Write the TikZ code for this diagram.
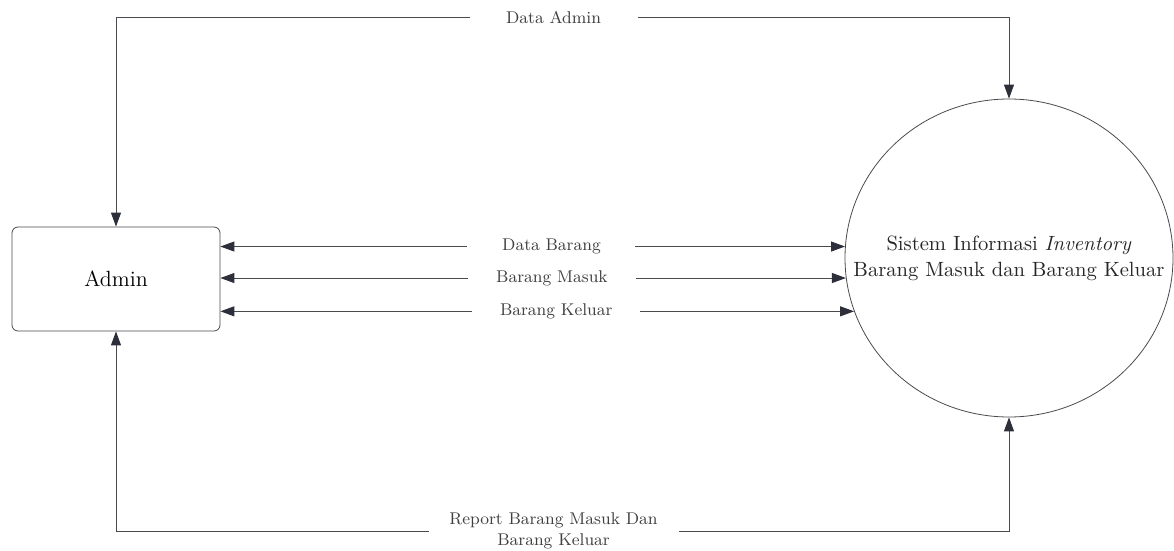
\documentclass[tikz,border=0pt]{standalone}
\usetikzlibrary{arrows.meta,shapes.geometric}
\definecolor{garis}{HTML}{4A4A4F}
\definecolor{ujung}{HTML}{2D2F3A}
\tikzset{
  entitas/.style={draw=garis,rounded corners=3pt,minimum width=104pt,minimum height=52pt,font=\fontsize{11}{13}\selectfont},
  proses/.style={draw=garis,ellipse,minimum width=164pt,minimum height=159pt,inner sep=0pt},
  teksproses/.style={inner sep=0pt,font=\fontsize{10.3}{13}\selectfont,align=center,text=black!85},
  alir/.style={draw=garis,line width=0.5pt,{Triangle[length=7pt,width=5pt,color=ujung]}-{Triangle[length=7pt,width=5pt,color=ujung]}},
  ket/.style={fill=white,inner ysep=1pt,minimum width=84pt,font=\fontsize{8.5}{10.5}\selectfont,text=black!75,align=center}
}
\begin{document}
\begin{tikzpicture}[x=0.5pt,y=-0.5pt]
\useasboundingbox (0,0) rectangle (1174,551);
\node[entitas] (admin) at (116,279) {Admin};
\node[proses] (sistem) at (1009,258) {};
\node[teksproses] (sistemTeks) at (sistem.center) {Sistem Informasi \textit{Inventory}\\Barang Masuk dan Barang Keluar};
\coordinate (atasKiri) at (116,18);
\coordinate (atasKanan) at (1009,18);
\coordinate (bawahKiri) at (116,531);
\coordinate (bawahKanan) at (1009,531);
\draw[alir] (admin.north) -- (atasKiri) -- node[ket,pos=0.49] (lblAdmin) {Data Admin} (atasKanan) -- (sistem.north);
\draw[alir] (admin.east |- sistem.176.4) -- node[ket,pos=0.53] (lblData) {Data Barang} (sistem.176.4);
\draw[alir] (admin.east |- sistem.187.6) -- node[ket,pos=0.53] (lblMasuk) {Barang Masuk} (sistem.187.6);
\draw[alir] (admin.east |- sistem.199.1) -- node[ket,pos=0.53] (lblKeluar) {Barang Keluar} (sistem.199.1);
\draw[alir] (admin.south) -- (bawahKiri) -- node[ket,pos=0.49,minimum width=125pt,inner ysep=0pt] (lblReport) {Report Barang Masuk Dan\\Barang Keluar} (bawahKanan) -- (sistem.south);
\end{tikzpicture}
\end{document}
